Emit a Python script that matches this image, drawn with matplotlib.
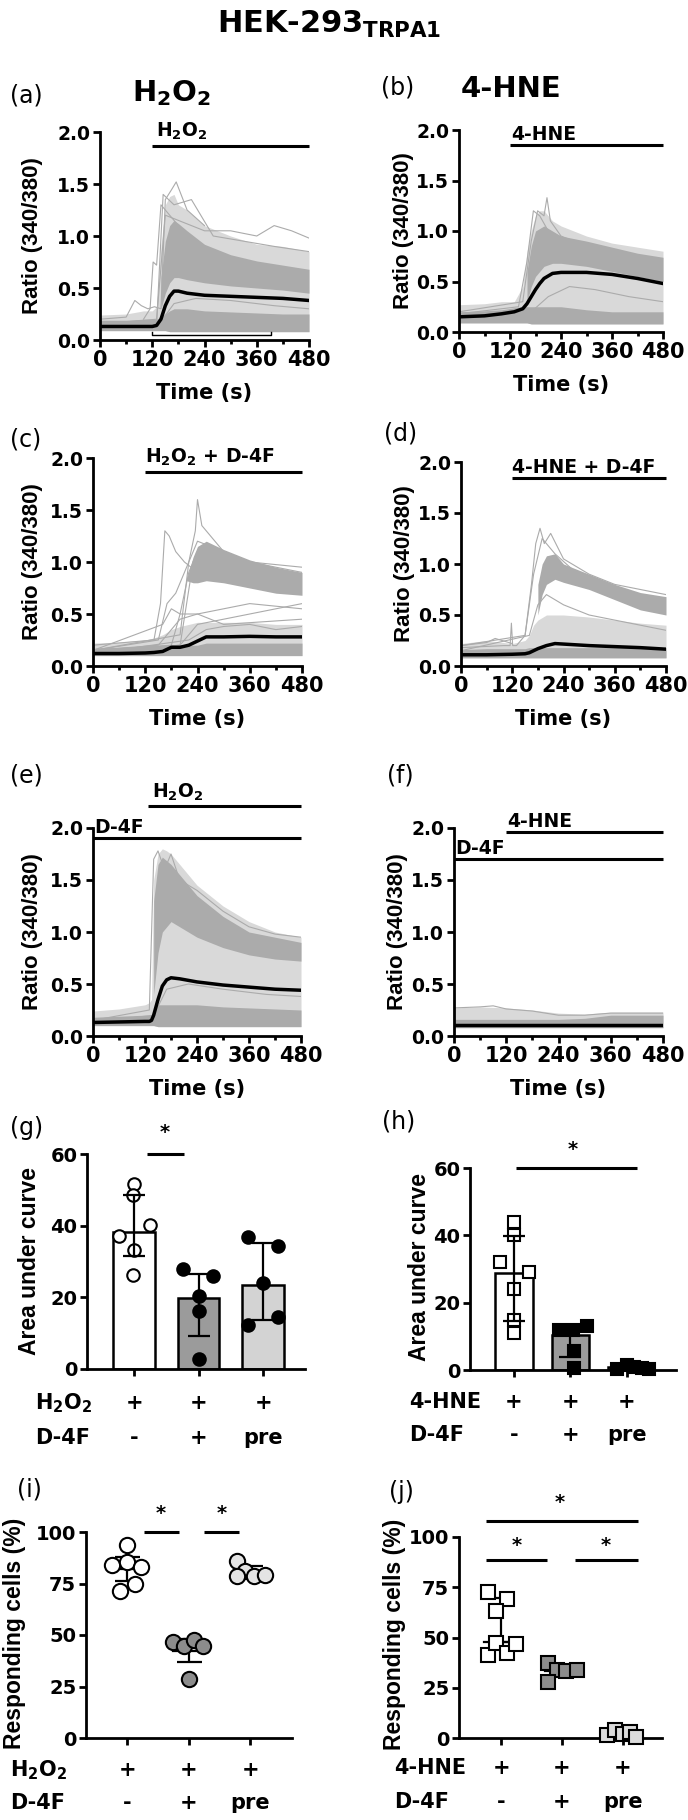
import matplotlib
matplotlib.use("Agg")
import matplotlib.pyplot as plt
from matplotlib import transforms

plt.rcParams['font.family'] = ['DejaVu Sans']
plt.rcParams['font.weight'] = 'bold'
plt.rcParams['mathtext.fontset'] = 'custom'
plt.rcParams['mathtext.rm'] = 'DejaVu Sans:bold'
plt.rcParams['mathtext.bf'] = 'DejaVu Sans:bold'
plt.rcParams['mathtext.it'] = 'DejaVu Sans:bold'

W, H = 688, 1820
GREY = '#ababab'
LIGHT = '#d9d9d9'
VFONT = ['Liberation Sans', 'DejaVu Sans']   # narrower face for the rotated labels

# ---------------- calcium traces (ratio 340/380) ----------------
# (a) H2O2
t_a = [0, 60, 100, 120, 130, 140, 150, 160, 170, 180, 200, 240, 300, 360, 420, 480]
mean_a = [0.13, 0.13, 0.13, 0.13, 0.14, 0.20, 0.33, 0.42, 0.47, 0.47, 0.45, 0.43, 0.42, 0.41, 0.40, 0.38]
env_lo_a = [0.09, 0.09, 0.09, 0.09, 0.09, 0.09, 0.09, 0.08, 0.08, 0.08, 0.08, 0.08, 0.08, 0.08, 0.08, 0.08]
env_hi_a = [0.24, 0.25, 0.28, 0.28, 0.32, 0.90, 1.30, 1.38, 1.40, 1.30, 1.25, 1.10, 1.00, 0.92, 0.90, 0.85]
base_hi_a = [0.19, 0.19, 0.20, 0.20, 0.20, 0.22, 0.25, 0.28, 0.30, 0.30, 0.30, 0.28, 0.27, 0.26, 0.25, 0.25]
tc_a = [140, 150, 160, 170, 180, 200, 240, 300, 360, 420, 480]
core_lo_a = [0.30, 0.45, 0.55, 0.60, 0.60, 0.58, 0.55, 0.52, 0.50, 0.48, 0.45]
core_hi_a = [0.60, 0.95, 1.10, 1.15, 1.12, 1.05, 0.92, 0.82, 0.76, 0.72, 0.68]
traces_a = [
    ([0, 60, 80, 95, 110, 125, 140, 150, 165, 175, 200, 240], [0.20, 0.22, 0.38, 0.33, 0.30, 0.32, 0.30, 1.35, 1.45, 1.52, 1.25, 1.10]),
    ([100, 115, 122, 130, 140, 160, 200], [0.20, 0.30, 0.75, 0.72, 1.30, 1.20, 1.00]),
    ([0, 130, 150, 180, 240, 300, 360, 400, 440, 480], [0.15, 0.20, 1.20, 1.15, 1.05, 1.05, 1.00, 1.10, 1.05, 0.98]),
    ([0, 130, 145, 170, 210, 260, 330, 400, 480], [0.12, 0.15, 1.40, 1.30, 1.35, 1.00, 0.95, 0.90, 0.85]),
    ([0, 140, 170, 220, 300, 400, 480], [0.12, 0.18, 0.35, 0.40, 0.38, 0.33, 0.30]),
]

# (b) 4-HNE
t_b = [0, 60, 100, 130, 150, 160, 170, 180, 190, 200, 220, 240, 300, 360, 420, 480]
mean_b = [0.15, 0.16, 0.18, 0.20, 0.23, 0.28, 0.35, 0.42, 0.48, 0.53, 0.58, 0.59, 0.59, 0.57, 0.53, 0.48]
env_lo_b = [0.09, 0.09, 0.09, 0.09, 0.09, 0.09, 0.08, 0.08, 0.08, 0.08, 0.08, 0.08, 0.08, 0.08, 0.08, 0.08]
env_hi_b = [0.27, 0.28, 0.30, 0.30, 0.45, 0.80, 1.00, 1.15, 1.20, 1.20, 1.10, 1.05, 0.95, 0.88, 0.84, 0.80]
base_hi_b = [0.20, 0.21, 0.22, 0.24, 0.25, 0.25, 0.25, 0.25, 0.25, 0.25, 0.25, 0.25, 0.22, 0.20, 0.20, 0.20]
tc_b = [160, 170, 180, 200, 220, 240, 300, 360, 420, 480]
core_lo_b = [0.30, 0.45, 0.55, 0.65, 0.68, 0.68, 0.65, 0.60, 0.55, 0.50]
core_hi_b = [0.60, 0.85, 1.00, 1.05, 1.00, 0.95, 0.90, 0.84, 0.78, 0.74]
traces_b = [
    ([0, 150, 170, 185, 200, 207, 215, 240, 300], [0.20, 0.30, 0.90, 1.20, 1.15, 1.33, 1.10, 0.95, 0.85]),
    ([0, 140, 160, 175, 190, 210, 260], [0.18, 0.25, 0.70, 1.20, 1.15, 1.00, 0.90]),
    ([0, 170, 210, 260, 320, 400, 480], [0.14, 0.20, 0.35, 0.45, 0.42, 0.35, 0.30]),
]

# (c) H2O2 + D-4F
t_c = [0, 60, 120, 140, 160, 180, 200, 220, 240, 260, 300, 360, 420, 480]
mean_c = [0.12, 0.12, 0.125, 0.13, 0.14, 0.18, 0.18, 0.20, 0.24, 0.28, 0.28, 0.285, 0.28, 0.28]
env_lo_c = [0.10, 0.10, 0.10, 0.10, 0.10, 0.10, 0.10, 0.10, 0.10, 0.10, 0.10, 0.10, 0.10, 0.10]
env_hi_c = [0.22, 0.23, 0.25, 0.27, 0.30, 0.35, 0.38, 0.40, 0.42, 0.42, 0.42, 0.42, 0.40, 0.40]
base_hi_c = [0.17, 0.18, 0.19, 0.19, 0.19, 0.20, 0.20, 0.20, 0.20, 0.22, 0.22, 0.22, 0.22, 0.22]
tc_c = [215, 230, 240, 260, 300, 360, 420, 480]
core_lo_c = [0.82, 0.80, 0.80, 0.82, 0.80, 0.75, 0.70, 0.68]
core_hi_c = [0.84, 1.05, 1.15, 1.20, 1.12, 1.02, 0.95, 0.90]
traces_c = [
    ([0, 140, 155, 165, 175, 190, 210, 240, 300], [0.20, 0.25, 0.60, 1.30, 1.25, 1.10, 1.00, 0.90, 0.85]),
    ([0, 200, 220, 235, 240, 250, 270, 300, 360, 480], [0.15, 0.30, 1.00, 1.30, 1.60, 1.35, 1.25, 1.10, 1.00, 0.90]),
    ([0, 150, 170, 190, 210, 240, 300, 360, 480], [0.15, 0.25, 0.60, 0.70, 0.90, 1.20, 1.10, 1.00, 0.95]),
    ([0, 180, 200, 220, 240, 300, 360, 420, 480], [0.15, 0.20, 0.50, 0.90, 1.10, 1.10, 1.00, 0.92, 0.88]),
    ([0, 200, 215, 230, 260, 300, 400, 480], [0.15, 0.20, 0.60, 1.00, 1.15, 1.05, 0.95, 0.85]),
    ([0, 150, 200, 240, 300, 360, 480], [0.15, 0.20, 0.45, 0.50, 0.55, 0.60, 0.55]),
    ([0, 200, 240, 300, 360, 480], [0.12, 0.20, 0.40, 0.45, 0.50, 0.60]),
    ([0, 160, 180, 200, 240, 300, 480], [0.15, 0.40, 0.55, 0.50, 0.50, 0.40, 0.45]),
    ([0, 220, 260, 300, 360, 420, 480], [0.12, 0.25, 0.35, 0.38, 0.40, 0.35, 0.38]),
]

# (d) 4-HNE + D-4F
t_d = [0, 60, 120, 150, 160, 170, 180, 200, 220, 240, 300, 360, 420, 480]
mean_d = [0.11, 0.11, 0.115, 0.12, 0.13, 0.15, 0.17, 0.20, 0.22, 0.215, 0.20, 0.19, 0.18, 0.165]
env_lo_d = [0.08, 0.08, 0.08, 0.08, 0.08, 0.08, 0.08, 0.08, 0.08, 0.08, 0.08, 0.08, 0.08, 0.08]
env_hi_d = [0.22, 0.25, 0.22, 0.25, 0.30, 0.40, 0.45, 0.50, 0.50, 0.50, 0.48, 0.45, 0.42, 0.40]
base_hi_d = [0.16, 0.17, 0.17, 0.17, 0.18, 0.18, 0.18, 0.18, 0.18, 0.18, 0.18, 0.18, 0.18, 0.18]
tc_d = [180, 190, 200, 220, 240, 300, 360, 420, 480]
core_lo_d = [0.50, 0.70, 0.80, 0.85, 0.82, 0.75, 0.65, 0.55, 0.50]
core_hi_d = [0.80, 1.00, 1.08, 1.10, 1.00, 0.90, 0.80, 0.72, 0.68]
traces_d = [
    ([0, 150, 165, 175, 185, 195, 210, 240, 300, 360, 480], [0.20, 0.30, 0.80, 1.20, 1.35, 1.20, 1.30, 1.05, 0.90, 0.80, 0.70]),
    ([0, 100, 115, 118, 121, 130, 150, 170, 190, 220, 260], [0.18, 0.20, 0.20, 0.42, 0.20, 0.20, 0.30, 0.90, 1.25, 1.10, 0.95]),
    ([0, 160, 180, 200, 240, 300, 360, 420, 480], [0.15, 0.30, 0.60, 0.70, 0.60, 0.50, 0.45, 0.40, 0.35]),
    ([0, 60, 80, 120], [0.20, 0.23, 0.27, 0.22]),
]

# (e) D-4F pre-treatment, then H2O2
t_e = [0, 60, 120, 130, 135, 140, 150, 160, 170, 180, 200, 240, 300, 360, 420, 480]
mean_e = [0.13, 0.135, 0.14, 0.14, 0.15, 0.20, 0.35, 0.48, 0.54, 0.56, 0.55, 0.52, 0.49, 0.47, 0.45, 0.44]
env_lo_e = [0.10, 0.10, 0.10, 0.10, 0.10, 0.10, 0.09, 0.09, 0.09, 0.09, 0.09, 0.09, 0.09, 0.09, 0.09, 0.09]
env_hi_e = [0.24, 0.26, 0.30, 0.32, 0.35, 1.50, 1.75, 1.80, 1.78, 1.75, 1.65, 1.45, 1.25, 1.10, 1.00, 0.95]
base_hi_e = [0.18, 0.19, 0.20, 0.20, 0.20, 0.25, 0.30, 0.30, 0.30, 0.30, 0.30, 0.30, 0.28, 0.27, 0.26, 0.25]
tc_e = [140, 150, 160, 180, 200, 240, 300, 360, 420, 480]
core_lo_e = [0.40, 0.80, 1.00, 1.10, 1.05, 0.95, 0.85, 0.78, 0.74, 0.72]
core_hi_e = [1.30, 1.65, 1.72, 1.65, 1.55, 1.35, 1.15, 1.00, 0.95, 0.90]
traces_e = [
    ([0, 130, 140, 150, 165, 180, 200, 240, 300, 360, 420, 480], [0.15, 0.25, 1.70, 1.78, 1.60, 1.75, 1.50, 1.40, 1.20, 1.05, 0.98, 0.95]),
    ([0, 140, 170, 220, 300, 400, 480], [0.13, 0.20, 0.45, 0.50, 0.45, 0.40, 0.38]),
]

# (f) D-4F pre-treatment, then 4-HNE
t_f = [0, 60, 120, 180, 240, 300, 360, 420, 480]
mean_f = [0.11, 0.11, 0.11, 0.11, 0.11, 0.11, 0.11, 0.11, 0.11]
env_lo_f = [0.08, 0.08, 0.08, 0.08, 0.08, 0.08, 0.08, 0.08, 0.08]
env_hi_f = [0.27, 0.28, 0.27, 0.25, 0.22, 0.21, 0.23, 0.23, 0.23]
base_hi_f = [0.16, 0.16, 0.16, 0.16, 0.16, 0.17, 0.20, 0.20, 0.20]
traces_f = [
    ([0, 60, 90, 120, 180, 240, 300, 360, 480], [0.27, 0.28, 0.29, 0.26, 0.24, 0.20, 0.20, 0.22, 0.22]),
]

# ---------------- area under curve ----------------
g_mean = [38.2, 19.8, 23.5]
g_err_lo = [6.8, 10.7, 9.7]
g_err_hi = [10.3, 6.8, 11.8]
g_vals = [[51.7, 48.5, 40.3, 37.0, 33.1, 26.1], [27.9, 25.9, 20.3, 16.1, 2.8], [36.7, 34.2, 24.0, 12.4, 14.5]]
g_jit = [[0, -0.02, 0.24, -0.24, 0, -0.02], [-0.24, 0.22, 0, 0, 0], [-0.23, 0.23, 0, -0.23, 0.23]]

h_mean = [28.8, 10.4, 0.8]
h_err_lo = [14.1, 6.4, 0.5]
h_err_hi = [11.1, 2.0, 0.5]
h_vals = [[43.9, 40.2, 32.1, 29.0, 24.1, 14.9, 11.1], [11.9, 11.9, 13.2, 5.5, 0.5], [0.3, 1.5, 0.8, 0.6, 0.2]]
h_jit = [[0, 0, -0.24, 0.26, 0, 0, 0], [-0.2, 0.04, 0.3, 0.07, 0.07], [-0.18, 0, 0.12, 0.26, 0.4]]

# ---------------- responding cells (%) ----------------
i_mean = [82.0, 42.4, 80.5]
i_sd = [5.8, 5.7, 2.8]
i_vals = [[93.8, 83.8, 85.4, 83.0, 74.7, 71.6], [46.4, 44.8, 47.6, 44.8, 28.6], [85.7, 81.3, 78.4, 78.9, 78.4]]
i_jit = [[0, -0.24, -0.01, 0.23, 0.12, -0.11], [-0.26, -0.08, 0.08, 0.24, 0], [-0.22, -0.08, 0.07, 0.24, -0.22]]

j_mean = [47.8, 33.2, 2.2]
j_err_lo = [0, 2.0, 1.0]
j_err_hi = [22.0, 2.0, 1.0]
j_vals = [[72.6, 69.0, 63.0, 41.5, 47.3, 42.4, 46.9], [37.3, 34.0, 33.3, 33.7, 27.9], [1.3, 4.1, 2.2, 3.0, 0.5]]
j_jit = [[-0.22, 0.09, -0.08, -0.22, -0.08, 0.09, 0.25], [-0.23, -0.08, 0.07, 0.25, -0.23], [-0.26, -0.13, 0, 0.12, 0.22]]

fig = plt.figure(figsize=(W / 100, H / 100), dpi=100)


def px_axes(x0, y0, x1, y1):
    return fig.add_axes([x0 / W, 1 - y1 / H, (x1 - x0) / W, (y1 - y0) / H])


def ftext(x, y, s, **kw):
    fig.text(x / W, 1 - y / H, s, **kw)


def ylab(x, y, s, size=16.5):
    ftext(x, y, s, rotation=90, ha='center', va='center', fontsize=size, family=VFONT)


def style(ax, ysize):
    for side in ['top', 'right']:
        ax.spines[side].set_visible(False)
    for side in ['left', 'bottom']:
        ax.spines[side].set_linewidth(2.0)
    ax.tick_params(which='major', width=2.0, length=5, labelsize=15, pad=2)
    ax.tick_params(which='minor', width=2.0, length=3)
    ax.tick_params(axis='y', labelsize=ysize)


def trace_panel(box, t, mean, env_lo, env_hi, base_hi, traces, tc=None, core_lo=None, core_hi=None, ylab_px=33):
    ax = px_axes(*box)
    ax.fill_between(t, env_lo, env_hi, color=LIGHT, lw=0)
    ax.fill_between(t, env_lo, base_hi, color=GREY, lw=0)
    if tc is not None:
        ax.fill_between(tc, core_lo, core_hi, color=GREY, lw=0)
    for tt, vv in traces:
        ax.plot(tt, vv, color=GREY, lw=0.8)
    ax.plot(t, mean, color='black', lw=2.5)
    ax.set_xlim(0, 480)
    ax.set_ylim(0, 2)
    ax.set_xticks([0, 120, 240, 360, 480])
    ax.set_xticks([60, 180, 300, 420], minor=True)
    ax.set_yticks([0, 0.5, 1.0, 1.5, 2.0])
    ax.set_yticklabels(['0.0', '0.5', '1.0', '1.5', '2.0'])
    style(ax, 13.5)
    x0, y0, x1, y1 = box
    ylab(ylab_px, (y0 + y1) / 2, 'Ratio (340/380)', 16)
    ftext((x0 + x1) / 2, y1 + 53, 'Time (s)', ha='center', va='center', fontsize=15)
    return ax


def treat(ax, x0, x1, y, label, tx, ty):
    ax.plot([x0, x1], [y, y], color='black', lw=2.2, clip_on=False, solid_capstyle='butt')
    ax.text(tx, ty, label, ha='left', va='bottom', fontsize=13.5, clip_on=False)


# title and column headers
ftext(329, 33, 'HEK-293$_{\\mathrm{TRPA1}}$', ha='center', va='baseline', fontsize=22)
ftext(172, 101, 'H$_2$O$_2$', ha='center', va='baseline', fontsize=21)
ftext(511, 97, '4-HNE', ha='center', va='baseline', fontsize=21)

ax = trace_panel((100, 132, 309, 340), t_a, mean_a, env_lo_a, env_hi_a, base_hi_a, traces_a, tc_a, core_lo_a, core_hi_a, 33)
treat(ax, 120, 480, 1.87, 'H$_2$O$_2$', 128, 1.90)
ax.plot([120, 120, 393, 393], [0.08, 0.045, 0.045, 0.08], color='black', lw=1.0)

ax = trace_panel((459, 130, 663, 332), t_b, mean_b, env_lo_b, env_hi_b, base_hi_b, traces_b, tc_b, core_lo_b, core_hi_b, 403)
treat(ax, 120, 480, 1.85, '4-HNE', 122, 1.86)

ax = trace_panel((93, 458, 302, 666), t_c, mean_c, env_lo_c, env_hi_c, base_hi_c, traces_c, tc_c, core_lo_c, core_hi_c, 33)
treat(ax, 120, 480, 1.865, 'H$_2$O$_2$ + D-4F', 120, 1.90)

ax = trace_panel((461, 462, 666, 666), t_d, mean_d, env_lo_d, env_hi_d, base_hi_d, traces_d, tc_d, core_lo_d, core_hi_d, 404)
treat(ax, 120, 480, 1.84, '4-HNE + D-4F', 120, 1.85)

ax = trace_panel((93, 828, 301, 1036), t_e, mean_e, env_lo_e, env_hi_e, base_hi_e, traces_e, tc_e, core_lo_e, core_hi_e, 33)
treat(ax, 127, 480, 2.21, 'H$_2$O$_2$', 135, 2.24)
treat(ax, 0, 480, 1.90, 'D-4F', 3, 1.91)

ax = trace_panel((454, 828, 663, 1036), t_f, mean_f, env_lo_f, env_hi_f, base_hi_f, traces_f, ylab_px=398)
treat(ax, 120, 480, 1.96, '4-HNE', 122, 1.97)
treat(ax, 0, 480, 1.70, 'D-4F', 3, 1.71)


def cat_rows(ax, row_ys, left_px, first):
    tr = transforms.blended_transform_factory(ax.transData, fig.transFigure)
    for x, s in zip([0, 1, 2], ['+', '+', '+']):
        ax.text(x, 1 - row_ys[0] / H, s, transform=tr, ha='center', va='center', fontsize=15)
    for x, s in zip([0, 1, 2], ['-', '+', 'pre']):
        ax.text(x, 1 - row_ys[1] / H, s, transform=tr, ha='center', va='center', fontsize=15)
    ftext(left_px, row_ys[0], first, ha='left', va='center', fontsize=15)
    ftext(left_px, row_ys[1], 'D-4F', ha='left', va='center', fontsize=15)


def sig(ax, x0, x1, y, sx, sy):
    ax.plot([x0, x1], [y, y], color='black', lw=2.2, clip_on=False, solid_capstyle='butt')
    ax.text(sx, sy, '*', ha='center', va='center', fontsize=14, clip_on=False)


def cat_axes(ax, xlim, ylim, yticks):
    ax.set_xlim(*xlim)
    ax.set_ylim(*ylim)
    ax.set_xticks([0, 1, 2])
    ax.set_xticklabels([])
    ax.set_yticks(yticks)
    style(ax, 14)


# (g) AUC, H2O2
ax = px_axes(87, 1154, 305, 1369)
ax.bar([0, 1, 2], g_mean, width=0.64, color=['white', '#9b9b9b', '#d3d3d3'], edgecolor='black', linewidth=1.8, zorder=1)
for k in range(3):
    fc = 'white' if k == 0 else 'black'
    ax.plot([k + d for d in g_jit[k]], g_vals[k], 'o', ms=9, mfc=fc, mec='black', mew=1.5, zorder=3, clip_on=False)
ax.errorbar([0, 1, 2], g_mean, yerr=[g_err_lo, g_err_hi], fmt='none', ecolor='black', elinewidth=1.6, capsize=8, capthick=1.6, zorder=4)
cat_axes(ax, (-0.73, 2.65), (0, 60), [0, 20, 40, 60])
sig(ax, 0.2, 0.78, 60, 0.47, 66)
ylab(30, 1261, 'Area under curve')
cat_rows(ax, (1403, 1438), 35, 'H$_2$O$_2$')

# (h) AUC, 4-HNE
ax = px_axes(470, 1168, 676, 1370)
ax.bar([0, 1, 2], h_mean, width=0.67, color=['white', '#9b9b9b', '#d3d3d3'], edgecolor='black', linewidth=1.8, zorder=1)
for k in range(3):
    fc = 'white' if k == 0 else 'black'
    ax.plot([k + d for d in h_jit[k]], h_vals[k], 's', ms=9, mfc=fc, mec='black', mew=1.5, zorder=3, clip_on=False)
ax.errorbar([0, 1, 2], h_mean, yerr=[h_err_lo, h_err_hi], fmt='none', ecolor='black', elinewidth=1.6, capsize=8, capthick=1.6, zorder=4)
cat_axes(ax, (-0.78, 2.87), (0, 60), [0, 20, 40, 60])
sig(ax, 0.04, 2.18, 60, 1.04, 65.6)
ylab(419, 1267, 'Area under curve')
cat_rows(ax, (1402, 1435), 409, '4-HNE')

# (i) responding cells, H2O2
ax = px_axes(86, 1532, 292, 1738)
i_colors = ['white', '#8c8c8c', '#e4e4e4']
for k in range(3):
    ax.plot([k - 0.25, k + 0.25], [i_mean[k], i_mean[k]], color='black', lw=1.6, zorder=2)
ax.errorbar([0, 1, 2], i_mean, yerr=i_sd, fmt='none', ecolor='black', elinewidth=1.6, capsize=9, capthick=1.6, zorder=2)
for k in range(3):
    ax.plot([k + d for d in i_jit[k]], i_vals[k], 'o', ms=11, mfc=i_colors[k], mec='black', mew=1.5, zorder=3, clip_on=False)
cat_axes(ax, (-0.67, 2.68), (0, 100), [0, 25, 50, 75, 100])
sig(ax, 0.28, 0.85, 100, 0.55, 109)
sig(ax, 1.25, 1.82, 100, 1.53, 109)
ylab(15, 1633, 'Responding cells (%)')
cat_rows(ax, (1770, 1803), 10, 'H$_2$O$_2$')

# (j) responding cells, 4-HNE
ax = px_axes(459, 1537, 662, 1738)
j_colors = ['white', '#8c8c8c', '#dcdcdc']
for k in range(3):
    ax.plot([k - 0.28, k + 0.28], [j_mean[k], j_mean[k]], color='black', lw=1.6, zorder=2)
ax.errorbar([0, 1, 2], j_mean, yerr=[j_err_lo, j_err_hi], fmt='none', ecolor='black', elinewidth=1.6, capsize=6, capthick=1.6, zorder=2)
for k in range(3):
    ax.plot([k + d for d in j_jit[k]], j_vals[k], 's', ms=9.5, mfc=j_colors[k], mec='black', mew=1.5, zorder=3, clip_on=False)
cat_axes(ax, (-0.69, 2.64), (0, 100), [0, 25, 50, 75, 100])
sig(ax, -0.25, 2.25, 108, 0.97, 117)
sig(ax, -0.25, 0.75, 88.5, 0.25, 96)
sig(ax, 1.21, 2.25, 88.5, 1.72, 96)
ylab(395, 1634, 'Responding cells (%)')
cat_rows(ax, (1768, 1802), 394, '4-HNE')

# panel letters
for s, x, y in [('(a)', 10, 95), ('(b)', 381, 88), ('(c)', 10, 440), ('(d)', 384, 433),
                ('(e)', 10, 775), ('(f)', 387, 775), ('(g)', 10, 1128), ('(h)', 382, 1122),
                ('(i)', 17, 1489), ('(j)', 389, 1492)]:
    ftext(x, y, s, ha='left', va='center', fontsize=17, fontweight='normal')

fig.savefig('out.png', dpi=100)
